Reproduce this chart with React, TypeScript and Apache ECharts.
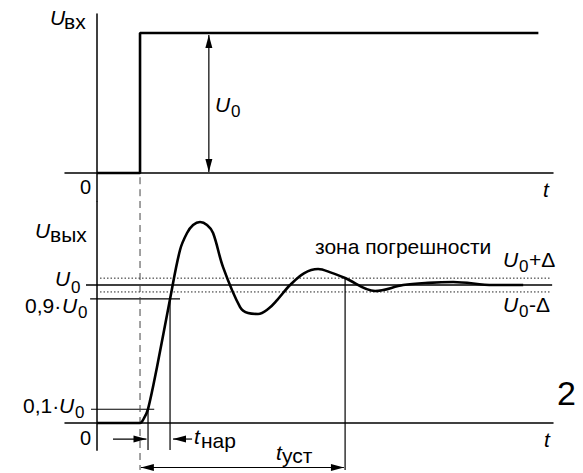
import React, { useEffect, useRef } from "react";
import * as echarts from "echarts";

// Input step signal (time in arbitrary units, step at t = 1)
const inputT = [0, 1, 1, 10.26];
const inputU = [0, 0, 1, 1];

// Output transient response (fractions of U0)
const outT = [0, 1.0, 1.093, 1.186, 1.395, 1.698, 1.93, 2.093, 2.233, 2.395, 2.558, 2.698, 2.93, 3.326, 3.512, 3.744, 3.977, 4.186, 4.488, 4.81, 5.14, 5.442, 5.767, 6.465, 7.116, 7.7, 8.28, 9.21, 9.907];
const outU = [0, 0, 0.036, 0.101, 0.406, 0.899, 1.254, 1.377, 1.435, 1.457, 1.435, 1.377, 1.13, 0.84, 0.797, 0.79, 0.826, 0.891, 1.0, 1.085, 1.116, 1.09, 1.051, 0.957, 1.0, 1.016, 1.022, 1.0, 1.0];

// Characteristic values
const T_STEP = 1;
const T_10 = 1.186;
const T_90 = 1.698;
const T_SET = 5.767;
const LEVEL_LOW = 0.1;
const LEVEL_HIGH = 0.9;
const LEVEL_FINAL = 1;
const DELTA = 0.05;

const FONT = '"Liberation Sans", Arial, sans-serif';
const MAIN = 21;
const SUB = 17;

const seg = (a: number[], b: number[]) => [a, b];

function txt(x: number, baseline: number, text: string, size = MAIN, italic = false) {
  return {
    type: "text",
    x,
    y: baseline - size * 0.35,
    silent: true,
    style: {
      text,
      fontSize: size,
      fontFamily: FONT,
      fontStyle: italic ? "italic" : "normal",
      fill: "#000",
      align: "left",
      verticalAlign: "middle",
    },
  };
}

function lineSeries(data: any[], gi: number, style: any) {
  return {
    type: "line",
    xAxisIndex: gi,
    yAxisIndex: gi,
    data,
    symbol: "none",
    silent: true,
    lineStyle: { color: "#000", width: 1.2, ...style },
  };
}

const ARROW = "path://M0,0 L1,3 L-1,3 Z";
const AW = 7;
const AL = 13;

// arrow head oriented for a horizontal / vertical segment, tip on the point
function head(p: number[], dir: "left" | "right" | "up" | "down") {
  const rot = { up: 0, down: 180, left: 90, right: -90 }[dir];
  const off = { up: [0, AL / 2], down: [0, -AL / 2], left: [AL / 2, 0], right: [-AL / 2, 0] }[dir];
  return { value: p, symbol: ARROW, symbolSize: [AW, AL], symbolRotate: rot, symbolOffset: off };
}

function arrowSeries(a: number[], b: number[], gi: number, both: boolean) {
  let dirB: any, dirA: any;
  if (a[1] === b[1]) {
    dirB = b[0] > a[0] ? "right" : "left";
    dirA = b[0] > a[0] ? "left" : "right";
  } else {
    dirB = b[1] > a[1] ? "up" : "down";
    dirA = b[1] > a[1] ? "down" : "up";
  }
  return {
    ...lineSeries([both ? head(a, dirA) : { value: a, symbol: "none" }, head(b, dirB)], gi, { width: 1.2 }),
    showSymbol: true,
    symbol: "none",
    itemStyle: { color: "#000", borderWidth: 0 },
    clip: false,
  };
}

export default function App() {
  const ref = useRef<HTMLDivElement>(null);
  useEffect(() => {
    if (!ref.current) return;
    const chart = echarts.init(ref.current, undefined, { renderer: "svg" });
    const xAx = (gi: number) => ({
      type: "value",
      gridIndex: gi,
      min: -0.744,
      max: 10.6,
      axisLine: { show: true, onZero: true, lineStyle: { color: "#000", width: 1.5 } },
      axisTick: { show: false },
      axisLabel: { show: false },
      splitLine: { show: false },
    });
    const option: any = {
      animation: false,
      backgroundColor: "#fff",
      grid: [
        { left: 65, right: 30, top: 14, height: 187 },
        { left: 65, right: 30, top: 201, height: 272 },
      ],
      xAxis: [xAx(0), xAx(1)],
      yAxis: [
        {
          type: "value",
          gridIndex: 0,
          min: -0.2,
          max: 1.136,
          axisLine: { show: true, onZero: true, lineStyle: { color: "#000", width: 1.5 } },
          axisTick: { show: false },
          axisLabel: { show: false },
          splitLine: { show: false },
        },
        {
          type: "value",
          gridIndex: 1,
          min: -0.362,
          max: 1.609,
          axisLine: { show: false },
          axisTick: { show: false },
          axisLabel: { show: false },
          splitLine: { show: false },
        },
      ],
      series: [
        // input step
        lineSeries(inputT.map((t, i) => [t, inputU[i]]), 0, { width: 2.6 }),
        arrowSeries([2.6, 0.007], [2.6, 0.986], 0, true),
        // dashed step marker (top part)
        lineSeries(seg([T_STEP, -0.03], [T_STEP, -0.2]), 0, { width: 1, color: "#444", type: [7, 5] }),
        // bottom y axis
        lineSeries(seg([0, -0.2], [0, 1.609]), 1, { width: 1.5 }),
        // final value line
        lineSeries(seg([-0.256, LEVEL_FINAL], [10.58, LEVEL_FINAL]), 1, { width: 1.5 }),
        // error band
        lineSeries(seg([0.07, LEVEL_FINAL + DELTA], [10.55, LEVEL_FINAL + DELTA]), 1, { width: 1, color: "#222", type: [1.5, 2] }),
        lineSeries(seg([0.07, LEVEL_FINAL - DELTA], [10.55, LEVEL_FINAL - DELTA]), 1, { width: 1, color: "#222", type: [1.5, 2] }),
        // 0.9 and 0.1 levels
        lineSeries(seg([-0.16, LEVEL_HIGH], [1.93, LEVEL_HIGH]), 1, {}),
        lineSeries(seg([-0.14, LEVEL_LOW], [1.33, LEVEL_LOW]), 1, {}),
        // vertical markers
        lineSeries(seg([T_10, LEVEL_LOW], [T_10, -0.196]), 1, {}),
        lineSeries(seg([T_90, LEVEL_HIGH], [T_90, -0.196]), 1, {}),
        lineSeries(seg([T_SET, LEVEL_FINAL + DELTA], [T_SET, -0.34]), 1, {}),
        lineSeries(seg([T_STEP, 1.609], [T_STEP, -0.34]), 1, { width: 1, color: "#444", type: [7, 5] }),
        // output response
        {
          ...lineSeries(outT.map((t, i) => [t, outU[i]]), 1, { width: 2.6 }),
          smooth: 0.35,
        },
        // time arrows
        arrowSeries([0.372, -0.116], [1.15, -0.116], 1, false),
        arrowSeries([2.21, -0.116], [1.767, -0.116], 1, false),
        arrowSeries([1.02, -0.322], [5.74, -0.322], 1, true),
      ],
      graphic: [
        txt(50, 25, "U", MAIN, true),
        txt(64, 29, "вх"),
        txt(215, 112, "U", MAIN, true),
        txt(231, 117, "0", SUB),
        txt(80, 194, "0", 20),
        txt(543, 197, "t", MAIN, true),
        txt(35, 238, "U", MAIN, true),
        txt(50, 242, "вых"),
        txt(55, 286, "U", MAIN, true),
        txt(71, 293, "0", SUB),
        txt(25, 313, "0,9·"),
        txt(62, 313, "U", MAIN, true),
        txt(78, 318, "0", SUB),
        txt(23, 413, "0,1·"),
        txt(59, 413, "U", MAIN, true),
        txt(75, 418, "0", SUB),
        txt(80, 445, "0", 20),
        txt(544, 447, "t", MAIN, true),
        txt(194, 444, "t", MAIN, true),
        txt(201, 448, "нар"),
        txt(276, 460, "t", MAIN, true),
        txt(282, 463, "уст"),
        txt(315, 254, "зона погрешности"),
        txt(503, 267, "U", MAIN, true),
        txt(519, 272, "0", SUB),
        txt(529, 267, "+Δ"),
        txt(503, 312, "U", MAIN, true),
        txt(519, 317, "0", SUB),
        txt(529, 312, "-Δ"),
        txt(557, 405, "2", 34),
      ],
    };
    chart.setOption(option);
    return () => chart.dispose();
  }, []);
  return (
    <div
      ref={ref}
      style={{ position: "fixed", left: 0, top: 0, width: 583, height: 473, background: "#fff" }}
    />
  );
}
